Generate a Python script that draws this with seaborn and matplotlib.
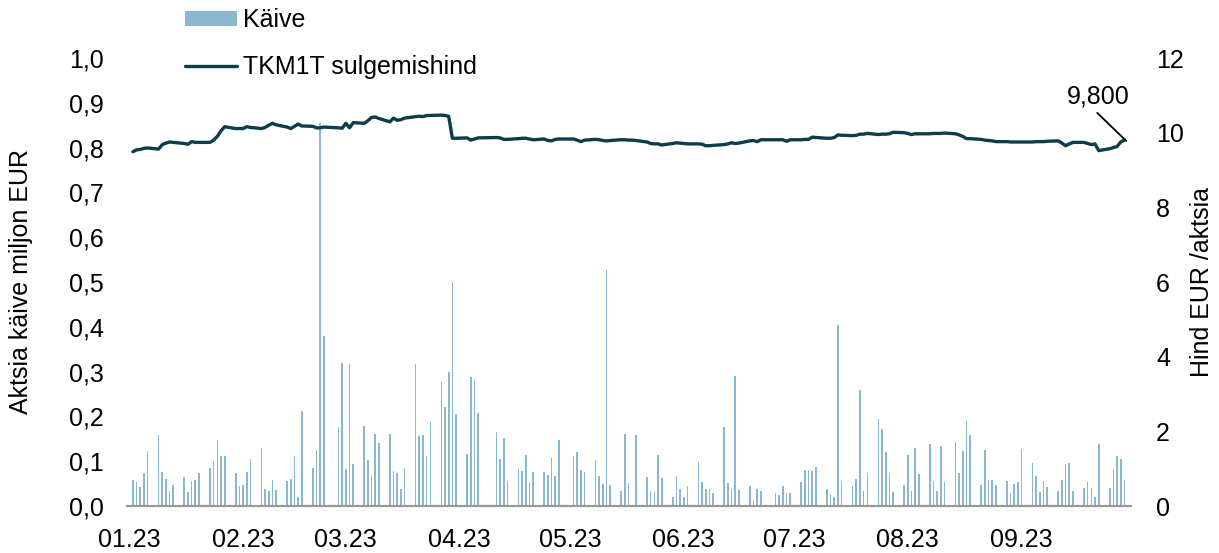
import numpy as np
import pandas as pd
import matplotlib
matplotlib.use("Agg")
import matplotlib.pyplot as plt
import matplotlib.dates as mdates
from matplotlib.ticker import FuncFormatter, MultipleLocator
import seaborn as sns

# trading days Jan-Sep 2023 (Nasdaq Tallinn holidays removed)
holidays = pd.to_datetime(["2023-02-24", "2023-04-07", "2023-04-10", "2023-05-01", "2023-06-23"])
dates = pd.bdate_range("2023-01-02", "2023-09-29")
dates = dates[~dates.isin(holidays)]

# daily turnover, mln EUR
vol_jan = [0.058, 0.054, 0.042, 0.074, 0.123, 0.158, 0.076, 0.061, 0.033, 0.046,
           0.064, 0.031, 0.055, 0.058, 0.073, 0.085, 0.100, 0.148, 0.112, 0.112,
           0.074, 0.045]
vol_feb = [0.046, 0.077, 0.104, 0.129, 0.039, 0.034, 0.057, 0.036, 0.056, 0.060,
           0.112, 0.021, 0.211, 0.084, 0.126, 0.856, 0.379, 0.176, 0.320]
vol_mar = [0.083, 0.318, 0.093, 0.179, 0.103, 0.068, 0.161, 0.141, 0.161, 0.078,
           0.074, 0.038, 0.084, 0.317, 0.157, 0.158, 0.111, 0.188, 0.276, 0.221,
           0.298, 0.501, 0.205]
vol_apr = [0.115, 0.287, 0.284, 0.207, 0.165, 0.106, 0.151, 0.056, 0.083, 0.078,
           0.114, 0.054, 0.075, 0.075, 0.069, 0.107, 0.067, 0.148]
vol_may = [0.112, 0.121, 0.080, 0.075, 0.102, 0.067, 0.050, 0.526, 0.046, 0.033,
           0.161, 0.052, 0.0, 0.158, 0.065, 0.033, 0.031, 0.114, 0.063, 0.021,
           0.068, 0.038]
vol_jun = [0.021, 0.044, 0.098, 0.054, 0.039, 0.039, 0.028, 0.176, 0.051, 0.039,
           0.291, 0.035, 0.045, 0.013, 0.039, 0.034, 0.029, 0.025, 0.045, 0.030,
           0.030]
vol_jul = [0.053, 0.081, 0.081, 0.078, 0.088, 0.039, 0.027, 0.021, 0.404, 0.056,
           0.045, 0.061, 0.258, 0.033, 0.074, 0.194, 0.171, 0.121, 0.073, 0.032,
           0.047]
vol_aug = [0.114, 0.033, 0.129, 0.071, 0.138, 0.056, 0.034, 0.134, 0.054, 0.142,
           0.074, 0.123, 0.189, 0.158, 0.047, 0.125, 0.058, 0.058, 0.046, 0.056,
           0.029, 0.049, 0.054]
vol_sep = [0.127, 0.097, 0.068, 0.032, 0.056, 0.043, 0.033, 0.057, 0.094, 0.097,
           0.033, 0.041, 0.054, 0.041, 0.019, 0.138, 0.041, 0.083, 0.111, 0.105,
           0.059]

# closing price, EUR
px_jan = [9.49, 9.54, 9.55, 9.58, 9.59, 9.56, 9.68, 9.72, 9.75, 9.74, 9.71, 9.69,
          9.76, 9.74, 9.74, 9.74, 9.80, 9.90, 10.05, 10.16, 10.11, 10.11]
px_feb = [10.11, 10.16, 10.14, 10.11, 10.14, 10.20, 10.25, 10.21, 10.15, 10.11,
          10.17, 10.23, 10.18, 10.17, 10.13, 10.13, 10.15, 10.13, 10.12]
px_mar = [10.25, 10.13, 10.27, 10.25, 10.32, 10.41, 10.42, 10.38, 10.29, 10.39,
          10.33, 10.35, 10.39, 10.43, 10.44, 10.43, 10.46, 10.46, 10.47, 10.46,
          10.44, 9.85, 9.85]
px_apr = [9.86, 9.80, 9.83, 9.86, 9.87, 9.86, 9.82, 9.82, 9.84, 9.85, 9.85, 9.83,
          9.81, 9.83, 9.79, 9.78, 9.82, 9.83]
px_may = [9.83, 9.80, 9.76, 9.80, 9.82, 9.81, 9.79, 9.78, 9.79, 9.81, 9.81, 9.80,
          9.80, 9.79, 9.75, 9.71, 9.70, 9.70, 9.67, 9.71, 9.73, 9.72]
px_jun = [9.71, 9.70, 9.70, 9.69, 9.65, 9.65, 9.66, 9.68, 9.70, 9.73, 9.71, 9.72,
          9.78, 9.79, 9.76, 9.81, 9.81, 9.81, 9.81, 9.77, 9.81]
px_jul = [9.81, 9.82, 9.82, 9.88, 9.87, 9.85, 9.85, 9.87, 9.94, 9.93, 9.92, 9.93,
          9.96, 9.96, 9.98, 9.95, 9.96, 9.96, 9.97, 10.01, 10.00]
px_aug = [9.98, 9.95, 9.97, 9.97, 9.97, 9.98, 9.98, 9.98, 9.99, 9.97, 9.94, 9.90,
          9.84, 9.84, 9.82, 9.80, 9.79, 9.78, 9.76, 9.76, 9.75, 9.75, 9.75]
px_sep = [9.75, 9.75, 9.76, 9.76, 9.76, 9.77, 9.78, 9.72, 9.65, 9.70, 9.74, 9.74,
          9.71, 9.68, 9.70, 9.52, 9.57, 9.60, 9.63, 9.75, 9.80]

volume = vol_jan + vol_feb + vol_mar + vol_apr + vol_may + vol_jun + vol_jul + vol_aug + vol_sep
price = px_jan + px_feb + px_mar + px_apr + px_may + px_jun + px_jul + px_aug + px_sep
last_label = "9,800"

df = pd.DataFrame({"x": mdates.date2num(dates), "Käive": volume, "Hind": price})

bar_color = "#8ab8d0"
line_color = "#0b3d4a"
fs = 18

sns.set_style("white")
plt.rcParams["font.family"] = ["Liberation Sans", "DejaVu Sans"]
plt.rcParams["font.size"] = fs
plt.rcParams["text.color"] = "black"
plt.rcParams["xtick.color"] = "black"
plt.rcParams["ytick.color"] = "black"
plt.rcParams["axes.labelcolor"] = "black"

fig = plt.figure(figsize=(12.19, 5.53), dpi=100)
ax = fig.add_axes([127 / 1219, 47 / 553, 1004 / 1219, 448 / 553])
ax2 = ax.twinx()

sns.barplot(data=df, x="x", y="Käive", native_scale=True, width=0.45,
            color=bar_color, saturation=1, linewidth=0, errorbar=None, ax=ax, label="Käive")
sns.lineplot(data=df, x="x", y="Hind", color=line_color, linewidth=2.4,
             ax=ax2, label="TKM1T sulgemishind", legend=False)

h1, l1 = ax.get_legend_handles_labels()
h2, l2 = ax2.get_legend_handles_labels()
if ax.get_legend() is not None:
    ax.get_legend().remove()
if ax2.get_legend() is not None:
    ax2.get_legend().remove()

ax.set_xlim(mdates.date2num(pd.Timestamp("2023-01-01")) - 0.6,
            mdates.date2num(pd.Timestamp("2023-09-30")) + 0.8)
ax.set_ylim(0, 1.0)
ax2.set_ylim(0, 12)
ax.yaxis.set_major_locator(MultipleLocator(0.1))
ax2.yaxis.set_major_locator(MultipleLocator(2))
ax.yaxis.set_major_formatter(FuncFormatter(lambda v, p: f"{v:.1f}".replace(".", ",")))
ax2.yaxis.set_major_formatter(FuncFormatter(lambda v, p: f"{v:.0f}"))

ax.xaxis.set_major_locator(mdates.MonthLocator())
ax.xaxis.set_major_formatter(mdates.DateFormatter("%m.%y"))

for a in (ax, ax2):
    for s in ("top", "left", "right", "bottom"):
        a.spines[s].set_visible(False)
ax.spines["bottom"].set_visible(True)
ax.spines["bottom"].set_color("#999999")
ax.spines["bottom"].set_linewidth(1.6)

ax.tick_params(axis="x", length=0, pad=16, labelsize=fs)
ax.tick_params(axis="y", length=0, pad=17, labelsize=fs)
ax2.tick_params(axis="y", length=0, pad=18, labelsize=fs)

ax.set_xlabel("")
ax.set_ylabel("Aktsia käive miljon EUR", fontsize=fs)
ax2.set_ylabel("Hind EUR /aktsia", fontsize=fs)
ax.yaxis.set_label_coords(-0.0936, 0.5)
ax2.yaxis.set_label_coords(1.0588, 0.5)

# last price label with leader line
x_last = df["x"].iloc[-1]
ax2.text(x_last - 7, price[-1] + 1.18, last_label, ha="center", va="center", fontsize=fs)
ax2.annotate("", xy=(x_last + 0.5, price[-1] - 0.02), xytext=(x_last - 7.4, price[-1] + 0.73),
             arrowprops=dict(arrowstyle="-", color="black", lw=1.3, shrinkA=0, shrinkB=0))

fig.legend(h1 + h2, l1 + l2, loc="upper left", bbox_to_anchor=(185 / 1219, 1 - 8 / 553),
           frameon=False, borderpad=0, borderaxespad=0, handlelength=2.08,
           handleheight=0.55, handletextpad=0.24, labelspacing=0.92, fontsize=fs)

fig.savefig("out.png", dpi=100)
